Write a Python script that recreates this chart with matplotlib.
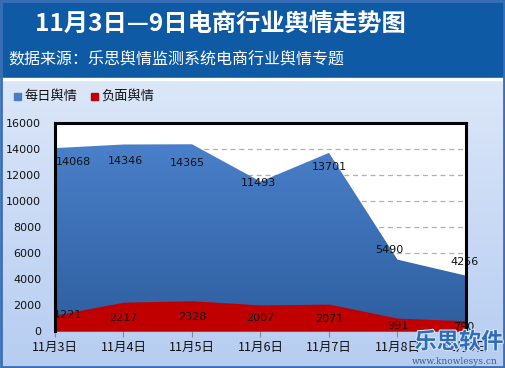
import matplotlib
matplotlib.use("Agg")
import matplotlib.pyplot as plt
import numpy as np
from matplotlib.patches import Rectangle
from matplotlib.colors import LinearSegmentedColormap
import matplotlib.patheffects as pe

plt.rcParams['font.family'] = ['Noto Sans CJK SC', 'DejaVu Sans']

categories = ['11月3日', '11月4日', '11月5日', '11月6日', '11月7日', '11月8日', '11月9日']
daily = [14068, 14346, 14365, 11493, 13701, 5490, 4256]
negative = [1221, 2217, 2328, 2007, 2071, 991, 790]
yticks = [0, 2000, 4000, 6000, 8000, 10000, 12000, 14000, 16000]
title = '11月3日—9日电商行业舆情走势图'
subtitle = '数据来源：乐思舆情监测系统电商行业舆情专题'
legend_labels = ['每日舆情', '负面舆情']

# label offsets in points (dx, dy), labels centred
daily_off = [(13.5, -10), (1.5, -12), (-3, -13.5), (-1.5, -1), (0, -10), (-6, 7), (-1, 10)]
neg_off = [(9.5, 6), (0, -1), (0, -1), (0, 0), (0, -1), (0, -1), (-2, -1)]

W, H = 506, 368
fig = plt.figure(figsize=(W/100, H/100), dpi=100)

# background gradient
bg = fig.add_axes([0, 0, 1, 1], zorder=-10)
bg.set_axis_off()
grad = np.linspace(0, 1, 256).reshape(-1, 1)
bgcmap = LinearSegmentedColormap.from_list('bg', ['#E6EEFB', '#B6CDF1'])
bg.imshow(grad, aspect='auto', cmap=bgcmap, extent=[0, 1, 0, 1], origin='upper')
bg.set_xlim(0, 1); bg.set_ylim(0, 1)
# header band
bg.add_patch(Rectangle((0, 1 - 78/H), 1, 78/H, color='#0E5AA5', zorder=2))
bg.add_patch(Rectangle((0, 1 - 80/H), 1, 2/H, color='#FFFFFF', zorder=2))
# outer border
bg.add_patch(Rectangle((0.002, 0.003), 0.994, 0.994, fill=False, ec='#3A6FB5', lw=2.0, zorder=3))

fig.text(35/W, 1 - 25/H, title, color='white', fontsize=17.5, fontweight='bold', va='center', ha='left')
fig.text(8/W, 1 - 60/H, subtitle, color='white', fontsize=11.5, va='center', ha='left')

# legend
fig.patches.append(Rectangle((14/W, 1 - 100/H), 7/W, 7/H, color='#4A7CC4', transform=fig.transFigure))
fig.text(25/W, 1 - 96/H, legend_labels[0], fontsize=9.5, va='center', ha='left', color='#111111')
fig.patches.append(Rectangle((91/W, 1 - 100/H), 7/W, 7/H, color='#C00000', transform=fig.transFigure))
fig.text(101/W, 1 - 96/H, legend_labels[1], fontsize=9.5, va='center', ha='left', color='#111111')

ax = fig.add_axes([55/W, 1 - 331/H, (466 - 55)/W, (331 - 123)/H])
ax.set_facecolor('white')
x = np.arange(len(categories))

for yv in yticks[1:-1]:
    ax.axhline(yv, color='#B0B0B0', lw=0.9, ls=(0, (4, 3)), zorder=1)

# blue area with gradient
poly = ax.fill_between(x, 0, daily, color='none', lw=0, zorder=2)
bluecmap = LinearSegmentedColormap.from_list('bl', ['#2D5E9F', '#4A80CA'])
img = ax.imshow(np.linspace(0, 1, 256).reshape(-1, 1), aspect='auto', cmap=bluecmap,
                extent=[0, len(categories) - 1, 0, max(daily)], origin='lower', zorder=2)
img.set_clip_path(poly.get_paths()[0], transform=ax.transData)
ax.set_xlim(0, len(categories) - 1)
ax.set_ylim(0, 16000)

ax.fill_between(x, 0, negative, color='#C00000', lw=0, zorder=3)

for i, v in enumerate(daily):
    ax.annotate(str(v), (x[i], v), xytext=daily_off[i], textcoords='offset points',
                ha='center', va='center', fontsize=8, color='#111111',
                family='DejaVu Sans', zorder=5)
for i, v in enumerate(negative):
    ax.annotate(str(v), (x[i], v / 2), xytext=neg_off[i], textcoords='offset points',
                ha='center', va='center', fontsize=8, color='#111111',
                family='DejaVu Sans', zorder=5)

ax.set_xticks(x)
ax.set_xticklabels(categories, fontsize=9, color='#111111')
ax.set_yticks(yticks)
ax.set_yticklabels([str(v) for v in yticks], fontsize=8, color='#111111', family='DejaVu Sans')
ax.tick_params(axis='x', length=4, color='#888888', pad=3)
ax.tick_params(axis='y', length=0, pad=10)
for s in ['top', 'left', 'right']:
    ax.spines[s].set_linewidth(2.2)
    ax.spines[s].set_color('black')
    ax.spines[s].set_zorder(6)
ax.spines['bottom'].set_color('#888888')
ax.spines['bottom'].set_linewidth(0.8)

# watermark
fig.text(459/W, 1 - 342/H, '乐思软件', fontsize=16, fontweight='bold', color='#2F6DB8',
         ha='center', va='center', zorder=20,
         path_effects=[pe.withStroke(linewidth=1.5, foreground='#DDE8F8')])
fig.text(455/W, 1 - 361/H, 'www.knowlesys.cn', fontsize=6.5, color='#3A5F8F',
         ha='center', va='center', family='DejaVu Serif', zorder=20)

fig.savefig('out.png', dpi=100)
